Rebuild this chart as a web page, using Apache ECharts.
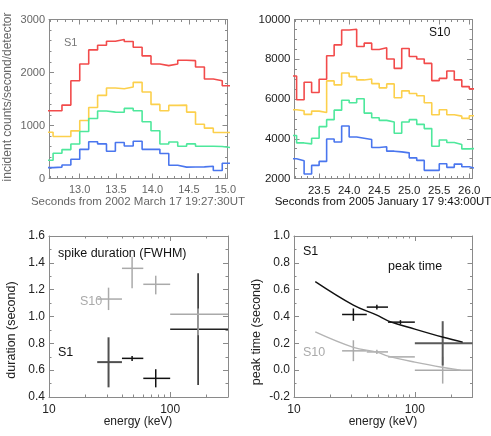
<!DOCTYPE html>
<html><head><meta charset="utf-8">
<script src="https://cdn.jsdelivr.net/npm/echarts@6/dist/echarts.min.js"></script>
<style>html,body{margin:0;padding:0;background:#fff}#c{width:491px;height:436px}</style>
</head><body><div id="c"></div>
<script>
// ---------- DATA ----------
// Panel 1: S1 light curves (bin edges in seconds, counts/s/detector)
const s1Edges = [12.514, 12.636, 12.758, 12.880, 13.002, 13.125, 13.247, 13.369, 13.491, 13.613, 13.736,
  13.858, 13.980, 14.102, 14.224, 14.347, 14.469, 14.591, 14.713, 14.835, 14.958, 15.080];
const s1Red    = [1278, 1278, 1385, 1845, 2161, 2426, 2515, 2591, 2622, 2584, 2476, 2313, 2161, 2130, 2161, 2230, 2224, 2104, 1877, 1845, 1751];
const s1Yellow = [874, 792, 792, 899, 1094, 1340, 1568, 1707, 1694, 1725, 1814, 1631, 1398, 1277, 1379, 1385, 1253, 1025, 950, 868, 868];
const s1Green  = [343, 476, 545, 650, 887, 1131, 1274, 1253, 1249, 1323, 1277, 1072, 902, 650, 688, 609, 653, 609, 609, 604, 583];
const s1Blue   = [206, 215, 256, 363, 550, 694, 653, 515, 678, 612, 703, 550, 550, 473, 250, 215, 217, 220, 230, 151, 287];
const s1XTicks = [13.0, 13.5, 14.0, 14.5, 15.0];
const s1YTicks = [0, 1000, 2000, 3000];

// Panel 2: S10 light curves
const s10Edges = [23.000, 23.125, 23.250, 23.375, 23.500, 23.625, 23.750, 23.875, 24.000, 24.125, 24.250, 24.375, 24.500,
  24.625, 24.750, 24.875, 25.000, 25.125, 25.250, 25.375, 25.500, 25.625, 25.750, 25.875, 26.000, 26.125];
const s10Red    = [7160, 5960, 6840, 6325, 6990, 8175, 8725, 9475, 9510, 8640, 8810, 8490, 8575, 8010, 7540, 8540, 8140, 8010, 7790, 6925, 7040, 7410, 6960, 6625, 6510];
const s10Yellow = [5460, 5410, 5225, 5390, 5325, 6910, 6710, 7310, 7125, 6960, 7010, 6775, 6560, 6760, 6060, 6410, 6275, 6160, 5810, 5210, 5460, 5210, 5140, 5025, 5160];
const s10Green  = [4160, 3790, 3740, 4025, 4610, 4960, 5440, 5940, 5810, 6010, 5290, 5060, 4925, 4840, 4275, 4840, 4960, 4725, 4510, 3625, 3940, 3810, 3710, 3490, 3510];
const s10Blue   = [2990, 2890, 2225, 2660, 2860, 3990, 3840, 4640, 4090, 4025, 3960, 3560, 3600, 3375, 3340, 3290, 3040, 2910, 2410, 2410, 2740, 2560, 2725, 2590, 2490];
const s10XTicks = [23.5, 24.0, 24.5, 25.0, 25.5, 26.0];
const s10YTicks = [2000, 4000, 6000, 8000, 10000];

// Energy bands (keV)
const bandLo  = [25, 40, 60, 100];
const bandHi  = [40, 60, 100, 300];
const bandMid = [31, 48.5, 76, 170];
const energyTicks = [10, 100];
const energyMinor = [20, 30, 40, 50, 60, 70, 80, 90, 200];

// Panel 3: spike duration (FWHM), seconds
const durS1    = [0.660, 0.688, 0.539, 0.905];
const durS1Lo  = [0.472, 0.669, 0.472, 0.489];
const durS1Hi  = [0.845, 0.706, 0.607, 1.322];
const durS10   = [1.130, 1.359, 1.240, 1.016];
const durS10Lo = [1.048, 1.210, 1.165, 0.860];
const durS10Hi = [1.215, 1.446, 1.304, 1.060];
const durYTicks = [0.4, 0.6, 0.8, 1.0, 1.2, 1.4, 1.6];

// Panel 4: peak time, seconds
const peakS1    = [0.415, 0.470, 0.358, 0.200];
const peakS1Lo  = [0.368, 0.453, 0.343, 0.035];
const peakS1Hi  = [0.460, 0.487, 0.373, 0.365];
const peakS10   = [0.144, 0.136, 0.099, 0.000];
const peakS10Lo = [0.067, 0.120, 0.099, -0.100];
const peakS10Hi = [0.223, 0.153, 0.099, 0.100];
const fitS1E  = [15, 31, 48.5, 60, 100, 172, 249];
const fitS1V  = [0.660, 0.485, 0.410, 0.368, 0.306, 0.245, 0.209];
const fitS10E = [15, 31, 48.5, 60, 100, 172, 240];
const fitS10V = [0.285, 0.170, 0.135, 0.105, 0.060, 0.020, 0.000];
const peakYTicks = [-0.2, 0.0, 0.2, 0.4, 0.6, 0.8, 1.0];

// ---------- RENDER ----------
const FONT = "'Liberation Sans', Arial, sans-serif";
const FRAME = '#8a8a8a';
const C_RED = '#f24b4b', C_YEL = '#fcd04c', C_GRN = '#4ee89c', C_BLU = '#4a76ee';

function minorsOf(majors, n) {
  const out = [];
  for (let i = 0; i < majors.length - 1; i++) {
    const a = majors[i], b = majors[i + 1];
    for (let k = 1; k < n; k++) out.push(a + (b - a) * k / n);
  }
  return out;
}
function extendMinors(minors, step, lo, hi, firstMajor, lastMajor) {
  const out = minors.slice();
  for (let v = firstMajor - step; v > lo + 1e-9; v -= step) out.push(v);
  for (let v = lastMajor + step; v < hi - 1e-9; v += step) out.push(v);
  return out;
}

const xAxes = [], yAxes = [];
function axisObj(dim, grid, type, min, max, pos, ticks, len, showLine, label) {
  const o = {
    type: type, gridIndex: grid, position: pos, min: min, max: max,
    axisLine: { show: showLine, onZero: false, lineStyle: { color: FRAME, width: 1 } },
    axisTick: { show: true, inside: true, length: len, customValues: ticks, lineStyle: { color: FRAME, width: 1 } },
    axisLabel: { show: false },
    splitLine: { show: false }, minorTick: { show: false }, minorSplitLine: { show: false }
  };
  if (type === 'log') o.logBase = 10;
  if (label) {
    o.axisLabel = Object.assign({ show: true, customValues: ticks, fontFamily: FONT, showMinLabel: true, showMaxLabel: true }, label);
  }
  return o;
}
function addFrame(grid, xType, xMin, xMax, xMaj, xMin2, xLabel, yMin, yMax, yMaj, yMin2, yLabel) {
  const xi = xAxes.length, yi = yAxes.length;
  xAxes.push(axisObj('x', grid, xType, xMin, xMax, 'bottom', xMaj, 5, true, xLabel));
  xAxes.push(axisObj('x', grid, xType, xMin, xMax, 'bottom', xMin2, 2.5, false, null));
  xAxes.push(axisObj('x', grid, xType, xMin, xMax, 'top', xMaj, 5, true, null));
  xAxes.push(axisObj('x', grid, xType, xMin, xMax, 'top', xMin2, 2.5, false, null));
  yAxes.push(axisObj('y', grid, 'value', yMin, yMax, 'left', yMaj, 5, true, yLabel));
  yAxes.push(axisObj('y', grid, 'value', yMin, yMax, 'left', yMin2, 2.5, false, null));
  yAxes.push(axisObj('y', grid, 'value', yMin, yMax, 'right', yMaj, 5, true, null));
  yAxes.push(axisObj('y', grid, 'value', yMin, yMax, 'right', yMin2, 2.5, false, null));
  return { x: xi, y: yi };
}

const grids = [
  { left: 49, top: 19.5, width: 178.5, height: 159 },
  { left: 294.5, top: 19.5, width: 177.5, height: 159 },
  { left: 49, top: 236, width: 179, height: 161 },
  { left: 294, top: 236, width: 178.5, height: 161 }
];

// Panel 1
const ax1 = addFrame(0, 'value', 12.58, 15.03, s1XTicks,
  extendMinors(minorsOf(s1XTicks, 5), 0.1, 12.58, 15.03, 13.0, 15.0),
  { color: '#666', fontSize: 11, margin: 6, formatter: v => Number(v).toFixed(1) },
  0, 3000, s1YTicks, minorsOf(s1YTicks, 5),
  { color: '#666', fontSize: 11, margin: 4, formatter: v => String(Math.round(v)) });
// Panel 2
const ax2 = addFrame(1, 'value', 23.09, 26.045, s10XTicks,
  extendMinors(minorsOf(s10XTicks, 5), 0.1, 23.09, 26.045, 23.5, 26.0),
  { color: '#222', fontSize: 11.5, margin: 6, formatter: v => Number(v).toFixed(1) },
  2000, 10000, s10YTicks, minorsOf(s10YTicks, 4),
  { color: '#222', fontSize: 11.5, margin: 4, formatter: v => String(Math.round(v)) });
// Panel 3
const ax3 = addFrame(2, 'log', 10, 300, energyTicks, energyMinor,
  { color: '#222', fontSize: 12, margin: 7, formatter: v => String(Math.round(v)) },
  0.4, 1.6, durYTicks, minorsOf(durYTicks, 2),
  { color: '#222', fontSize: 12, margin: 4, formatter: v => Number(v).toFixed(1) });
// Panel 4
const ax4 = addFrame(3, 'log', 10, 300, energyTicks, energyMinor,
  { color: '#222', fontSize: 12, margin: 7, formatter: v => String(Math.round(v)) },
  -0.2, 1.0, peakYTicks, minorsOf(peakYTicks, 2),
  { color: '#222', fontSize: 12, margin: 4, formatter: v => Number(v).toFixed(1) });

function stepData(edges, vals) {
  const d = vals.map((v, i) => [edges[i], v]);
  d.push([edges[vals.length], vals[vals.length - 1]]);
  return d;
}
function stepSeries(ax, edges, vals, color) {
  return {
    type: 'line', xAxisIndex: ax.x, yAxisIndex: ax.y, step: 'end', data: stepData(edges, vals),
    showSymbol: false, symbol: 'none', clip: true, silent: true, animation: false,
    lineStyle: { color: color, width: 1.6 }
  };
}
function errRows(mid, v, lo, hi) {
  return mid.map((m, i) => [m, v[i], bandLo[i], bandHi[i], lo[i], hi[i]]);
}
function errSeries(ax, rows, colors, widths) {
  return {
    type: 'custom', xAxisIndex: ax.x, yAxisIndex: ax.y, data: rows, animation: false, silent: true, clip: true,
    encode: { x: [0, 2, 3], y: [1, 4, 5] },
    renderItem: function (params, api) {
      const i = params.dataIndex;
      const xc = api.value(0), yc = api.value(1), xl = api.value(2), xh = api.value(3), yl = api.value(4), yh = api.value(5);
      const a = api.coord([xl, yc]), b = api.coord([xh, yc]), c = api.coord([xc, yl]), d = api.coord([xc, yh]);
      const st = { stroke: colors[i], lineWidth: widths[i] };
      return { type: 'group', children: [
        { type: 'line', shape: { x1: a[0], y1: a[1], x2: b[0], y2: b[1] }, style: st },
        { type: 'line', shape: { x1: c[0], y1: c[1], x2: d[0], y2: d[1] }, style: st }
      ] };
    }
  };
}
function curveSeries(ax, es, vs, color) {
  return {
    type: 'line', xAxisIndex: ax.x, yAxisIndex: ax.y, smooth: 0.4, data: es.map((e, i) => [e, vs[i]]),
    showSymbol: false, symbol: 'none', silent: true, animation: false, lineStyle: { color: color, width: 1.4 }
  };
}

const series = [
  stepSeries(ax1, s1Edges, s1Red, C_RED),
  stepSeries(ax1, s1Edges, s1Yellow, C_YEL),
  stepSeries(ax1, s1Edges, s1Green, C_GRN),
  stepSeries(ax1, s1Edges, s1Blue, C_BLU),
  stepSeries(ax2, s10Edges, s10Red, C_RED),
  stepSeries(ax2, s10Edges, s10Yellow, C_YEL),
  stepSeries(ax2, s10Edges, s10Green, C_GRN),
  stepSeries(ax2, s10Edges, s10Blue, C_BLU),
  errSeries(ax3, errRows(bandMid, durS1, durS1Lo, durS1Hi), ['#505050', '#111', '#111', '#222'], [2, 1.5, 1.5, 1.5]),
  errSeries(ax3, errRows(bandMid, durS10, durS10Lo, durS10Hi), ['#aaa', '#aaa', '#aaa', '#aaa'], [1.5, 1.5, 1.5, 1.5]),
  curveSeries(ax4, fitS10E, fitS10V, '#b4b4b4'),
  curveSeries(ax4, fitS1E, fitS1V, '#111'),
  errSeries(ax4, errRows(bandMid, peakS10, peakS10Lo, peakS10Hi), ['#aaa', '#aaa', '#aaa', '#aaa'], [1.5, 1.5, 1.5, 1.5]),
  errSeries(ax4, errRows(bandMid, peakS1, peakS1Lo, peakS1Hi), ['#111', '#111', '#111', '#5a5a5a'], [1.5, 1.5, 1.5, 2])
];

function txt(t, x, y, color, size, align, rot) {
  const el = { type: 'text', x: x, y: y, silent: true, z: 100,
    style: { text: t, x: 0, y: 0, fill: color, font: size + 'px ' + FONT, textAlign: align || 'left', textVerticalAlign: 'middle' } };
  if (rot) el.rotation = rot;
  return el;
}
const graphics = [
  txt('S1', 64, 43, '#777', 11),
  txt('incident counts/second/detector', 8, 97, '#666', 12, 'center', Math.PI / 2),
  txt('Seconds from 2002 March 17 19:27:30UT', 138, 202, '#666', 11.5, 'center'),
  txt('S10', 429, 33, '#111', 12),
  txt('Seconds from 2005 January 17 9:43:00UT', 383, 202, '#111', 11.5, 'center'),
  txt('spike duration (FWHM)', 58, 254, '#111', 12.5),
  txt('S10', 80, 302, '#aaa', 12.5),
  txt('S1', 58, 353, '#111', 12.5),
  txt('duration (second)', 12, 330, '#222', 12.5, 'center', Math.PI / 2),
  txt('energy (keV)', 138, 422, '#222', 12, 'center'),
  txt('S1', 303, 252, '#111', 12.5),
  txt('peak time', 388, 267, '#111', 12.5),
  txt('S10', 303, 353, '#aaa', 12.5),
  txt('peak time (second)', 257, 332, '#222', 12.5, 'center', Math.PI / 2),
  txt('energy (keV)', 383, 422, '#222', 12, 'center')
];

const chart = echarts.init(document.getElementById('c'), null, { renderer: 'canvas' });
chart.setOption({
  animation: false,
  backgroundColor: '#fff',
  grid: grids,
  xAxis: xAxes,
  yAxis: yAxes,
  series: series,
  graphic: graphics
});
</script></body></html>
